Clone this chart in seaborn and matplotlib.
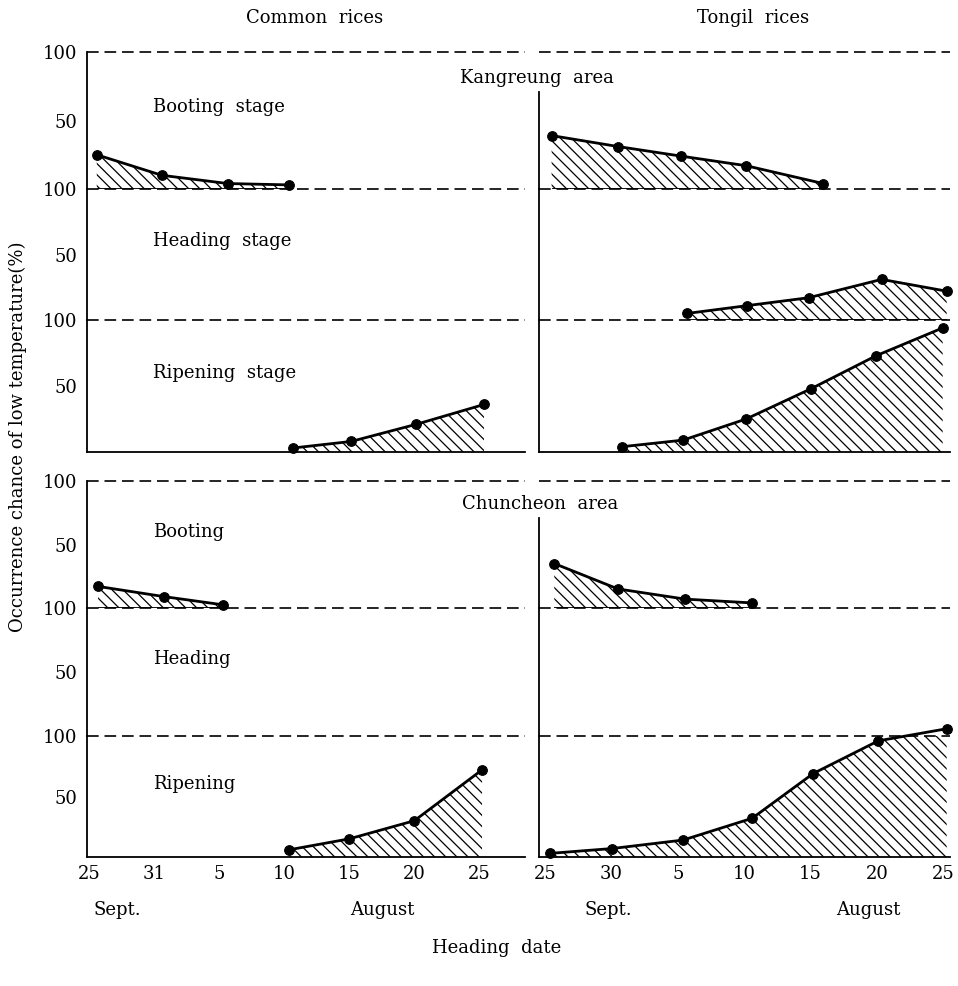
import matplotlib
matplotlib.use("Agg")
import matplotlib.pyplot as plt
import matplotlib.transforms as mtransforms
import seaborn as sns

# ── Text ────────────────────────────────────────────────────────────
COLUMN_TITLES = ["Common  rices", "Tongil  rices"]
AREA_LABELS = ["Kangreung  area", "Chuncheon  area"]
STAGE_LABELS_KANGREUNG = ["Booting  stage", "Heading  stage", "Ripening  stage"]
STAGE_LABELS_CHUNCHEON = ["Booting", "Heading", "Ripening"]
Y_LABEL = "Occurrence chance of low temperature(%)"
X_LABEL = "Heading  date"

# ── Heading-date axis ───────────────────────────────────────────────
TICK_POS = [0, 1, 2, 3, 4, 5, 6]
COMMON_TICK_LABELS = ["25", "31", "5", "10", "15", "20", "25"]
TONGIL_TICK_LABELS = ["25", "30", "5", "10", "15", "20", "25"]
MONTH_NAMES = ["Sept.", "August"]
COMMON_MONTH_POS = [0.43, 4.5]
TONGIL_MONTH_POS = [0.95, 4.87]

# ── Occurrence chance (%) ──────────────────────────────────────────
common_kang_boot_x = [0.12, 1.12, 2.13, 3.07]
common_kang_boot_y = [25, 10, 4, 3]
common_kang_ripe_x = [3.13, 4.03, 5.03, 6.07]
common_kang_ripe_y = [3, 8, 21, 36]

tongil_kang_boot_x = [0.10, 1.10, 2.05, 3.03, 4.19]
tongil_kang_boot_y = [39, 31, 24, 17, 4]
tongil_kang_head_x = [2.14, 3.05, 3.97, 5.07, 6.05]
tongil_kang_head_y = [5, 11, 17, 31, 22]
tongil_kang_ripe_x = [1.16, 2.08, 3.03, 4.01, 4.99, 5.99]
tongil_kang_ripe_y = [4, 9, 25, 48, 73, 94]

common_chun_boot_x = [0.14, 1.15, 2.06]
common_chun_boot_y = [17, 9, 2.5]
common_chun_ripe_x = [3.08, 4.00, 5.00, 6.04]
common_chun_ripe_y = [6, 15, 30, 72]

tongil_chun_boot_x = [0.14, 1.10, 2.11, 3.12]
tongil_chun_boot_y = [35, 15, 7, 4]
tongil_chun_ripe_x = [0.08, 1.01, 2.08, 3.12, 4.04, 5.02, 6.05]
tongil_chun_ripe_y = [3, 7, 14, 32, 69, 96, 106]

# (column, area, stage) -> series
SERIES = {
    (0, 0, 0): (common_kang_boot_x, common_kang_boot_y),
    (0, 0, 2): (common_kang_ripe_x, common_kang_ripe_y),
    (1, 0, 0): (tongil_kang_boot_x, tongil_kang_boot_y),
    (1, 0, 1): (tongil_kang_head_x, tongil_kang_head_y),
    (1, 0, 2): (tongil_kang_ripe_x, tongil_kang_ripe_y),
    (0, 1, 0): (common_chun_boot_x, common_chun_boot_y),
    (0, 1, 2): (common_chun_ripe_x, common_chun_ripe_y),
    (1, 1, 0): (tongil_chun_boot_x, tongil_chun_boot_y),
    (1, 1, 2): (tongil_chun_ripe_x, tongil_chun_ripe_y),
}

# ── Layout (pixels) ─────────────────────────────────────────────────
W, H = 958, 986
COL_X = [(87, 525), (539, 950)]
COL_XLIM = [(-0.03, 6.7), (-0.09, 6.1)]
BAND_Y = [
    [(52, 189), (189, 320), (320, 452)],
    [(481, 608), (608, 736), (736, 857)],
]

sns.set_theme(style="white")
plt.rcParams["font.family"] = ["DejaVu Serif"]
plt.rcParams["text.color"] = "black"
plt.rcParams["xtick.color"] = "black"
plt.rcParams["ytick.color"] = "black"
plt.rcParams["axes.labelcolor"] = "black"
plt.rcParams["hatch.linewidth"] = 0.9
plt.rcParams["hatch.color"] = "black"

FS = 13
DASH = (0, (7, 3.5))

fig = plt.figure(figsize=(W / 100, H / 100), dpi=100)


def px_axes(x0, x1, y0, y1):
    return fig.add_axes([x0 / W, 1 - y1 / H, (x1 - x0) / W, (y1 - y0) / H])


for col in range(2):
    x0, x1 = COL_X[col]
    for area in range(2):
        for stage in range(3):
            y0, y1 = BAND_Y[area][stage]
            ax = px_axes(x0, x1, y0, y1)
            ax.set_facecolor("none")
            ax.set_xlim(*COL_XLIM[col])
            ax.set_ylim(0, 100)
            for side in ["top", "right"]:
                ax.spines[side].set_visible(False)
            ax.spines["left"].set_color("black")
            ax.spines["left"].set_linewidth(1.3)
            ax.spines["bottom"].set_color("black")
            ax.spines["bottom"].set_linewidth(1.3)

            # dashed 100 line at top of every band
            ax.axhline(100, color="black", lw=1.2, linestyle=DASH,
                       xmin=0, xmax=1.0, clip_on=False, zorder=1)

            # y ticks
            ax.set_yticks([50, 100])
            if col == 0:
                ax.set_yticklabels(["50", "100"], fontsize=FS)
                ax.tick_params(axis="y", direction="out", length=5,
                               width=1.1, color="black", pad=2)
                ax.yaxis.get_major_ticks()[1].tick1line.set_visible(False)
            else:
                ax.set_yticklabels([])
                ax.tick_params(axis="y", direction="in", length=6,
                               width=1.1, color="black")
                if stage == 0:
                    ax.spines["left"].set_bounds(0, 71)

            # x axis only on ripening bands
            if stage == 2:
                ax.set_xticks(TICK_POS)
                if area == 1:
                    labels = COMMON_TICK_LABELS if col == 0 else TONGIL_TICK_LABELS
                    ax.set_xticklabels(labels, fontsize=FS)
                    ax.tick_params(axis="x", direction="in", length=5,
                                   width=1.1, color="black", pad=6)
                    months = COMMON_MONTH_POS if col == 0 else TONGIL_MONTH_POS
                    trans = mtransforms.blended_transform_factory(
                        ax.transData, fig.transFigure)
                    for name, mx in zip(MONTH_NAMES, months):
                        ax.text(mx, 1 - 910 / H, name, transform=trans,
                                ha="center", va="center", fontsize=FS)
                else:
                    ax.tick_params(axis="x", bottom=False, labelbottom=False)
            else:
                ax.spines["bottom"].set_visible(False)
                ax.set_xticks([])

            # stage label
            if col == 0:
                label = (STAGE_LABELS_KANGREUNG if area == 0
                         else STAGE_LABELS_CHUNCHEON)[stage]
                ax.text((153 - x0) / (x1 - x0), 0.6, label,
                        transform=ax.transAxes, fontsize=FS,
                        ha="left", va="center")

            # data
            if (col, area, stage) in SERIES:
                xs, ys = SERIES[(col, area, stage)]
                ax.fill_between(xs, ys, 0, facecolor="none", edgecolor="black",
                                hatch="\\\\\\", linewidth=0, zorder=2)
                if stage < 2:
                    ax.hlines(0, xs[0], xs[-1], color="black", lw=1.3, zorder=3)
                sns.lineplot(x=xs, y=ys, ax=ax, color="black", lw=2.0,
                             marker="o", markersize=7, markeredgecolor="black",
                             sort=False, zorder=4, clip_on=False)

            ax.set_xlabel("")
            ax.set_ylabel("")

# ── Figure-level text ───────────────────────────────────────────────
fig.text(315 / W, 1 - 18 / H, COLUMN_TITLES[0], ha="center", va="center", fontsize=FS)
fig.text(753 / W, 1 - 18 / H, COLUMN_TITLES[1], ha="center", va="center", fontsize=FS)
fig.text(537 / W, 1 - 78 / H, AREA_LABELS[0], ha="center", va="center", fontsize=FS)
fig.text(540 / W, 1 - 504 / H, AREA_LABELS[1], ha="center", va="center", fontsize=FS)
fig.text(18 / W, 1 - 437 / H, Y_LABEL, ha="center", va="center",
         rotation=90, fontsize=FS)
fig.text(497 / W, 1 - 948 / H, X_LABEL, ha="center", va="center", fontsize=FS)

fig.savefig("out.png", dpi=100, facecolor="white")
